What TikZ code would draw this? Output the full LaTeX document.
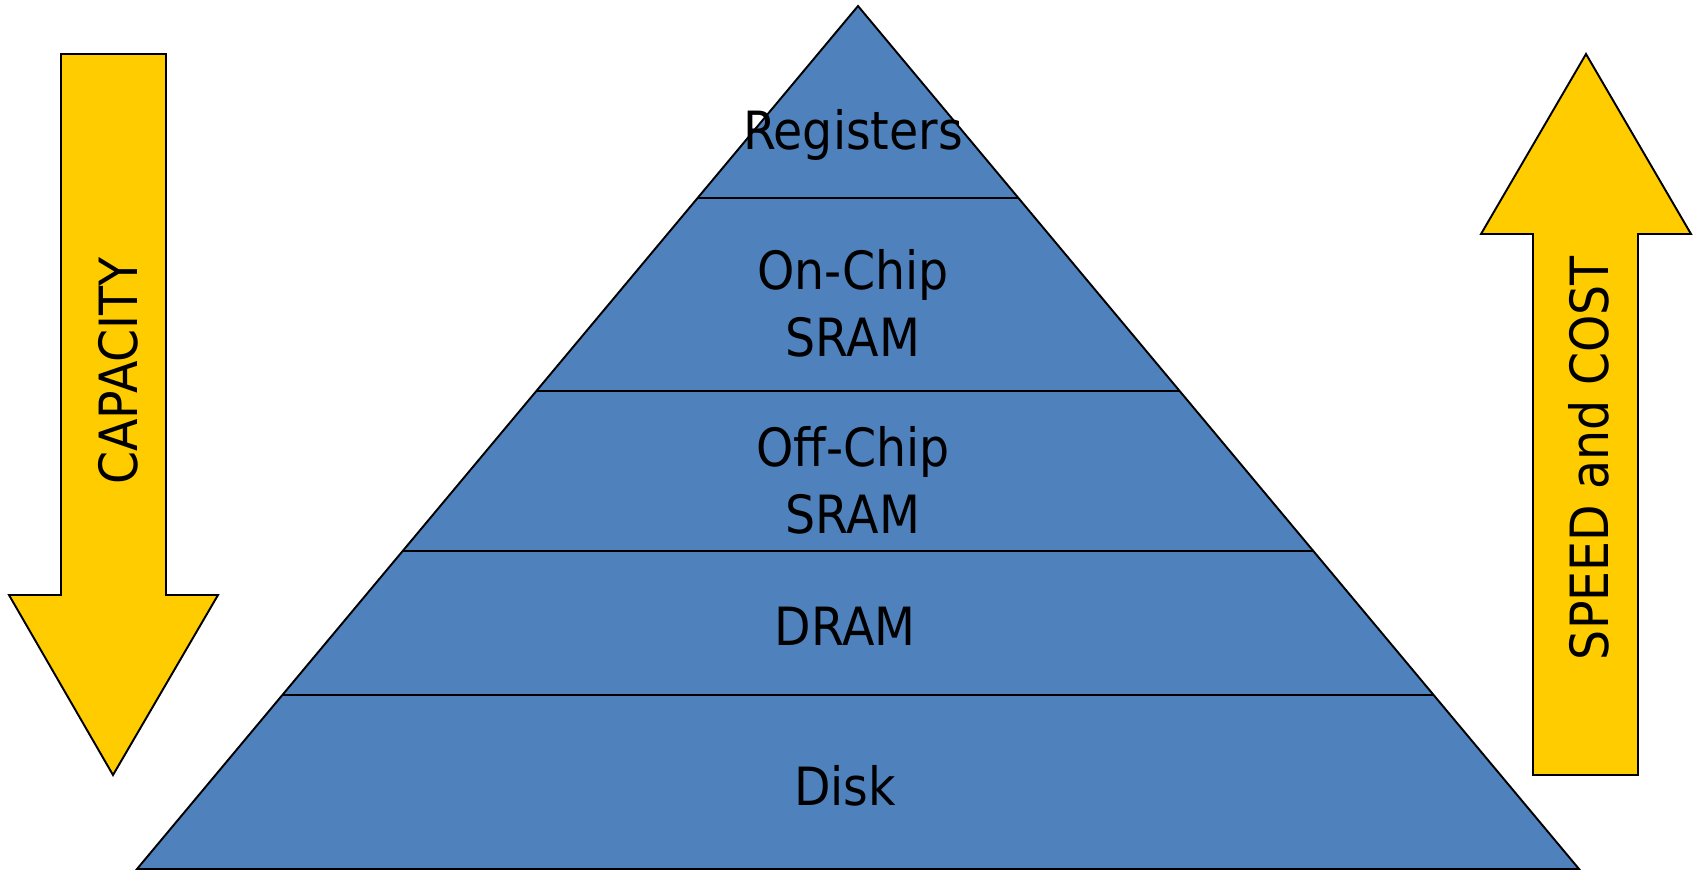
\documentclass[tikz,border=0pt]{standalone}
\usepackage{fontspec}
\setmainfont{DejaVu Sans Condensed}
\definecolor{pyrblue}{HTML}{4F81BD}
\definecolor{arrowyellow}{HTML}{FFCC00}

\begin{document}
\begin{tikzpicture}[x=0.02cm, y=-0.02cm,
    outline/.style={draw=black, line width=1.1pt},
    level/.style={font=\fontsize{30}{38}\selectfont, align=center, inner sep=0pt},
    side/.style={font=\fontsize{30}{36}\selectfont, rotate=90, anchor=base, inner sep=0pt}]
    \useasboundingbox (0,0) rectangle (1694,870);

    % memory pyramid
    \filldraw[outline, fill=pyrblue] (858,6) -- (1579,869) -- (137,869) -- cycle;
    \foreach \y in {198,391,551,695}
        \draw[outline] ({858-(\y-6)*0.8345},\y) -- ({858+(\y-6)*0.8345},\y);

    \node[level, anchor=base] (registers) at (853,149) {Registers};
    \node[level] (onchip) at (853,303) {On-Chip\\SRAM};
    \node[level] (offchip) at (853,480) {Off-Chip\\SRAM};
    \node[level, anchor=base] (dram) at (845,645) {DRAM};
    \node[level, anchor=base] (disk) at (845,805) {Disk};

    % side arrows
    \filldraw[outline, fill=arrowyellow] (61,54) -- (166,54) -- (166,595) -- (218,595)
        -- (113,775) -- (9,595) -- (61,595) -- cycle;
    \filldraw[outline, fill=arrowyellow] (1586,54) -- (1691,234) -- (1638,234) -- (1638,775)
        -- (1533,775) -- (1533,234) -- (1481,234) -- cycle;

    \node[side] (capacity) at (137,371) {CAPACITY};
    \node[side] (speed) at (1608,458) {SPEED and COST};
\end{tikzpicture}
\end{document}
